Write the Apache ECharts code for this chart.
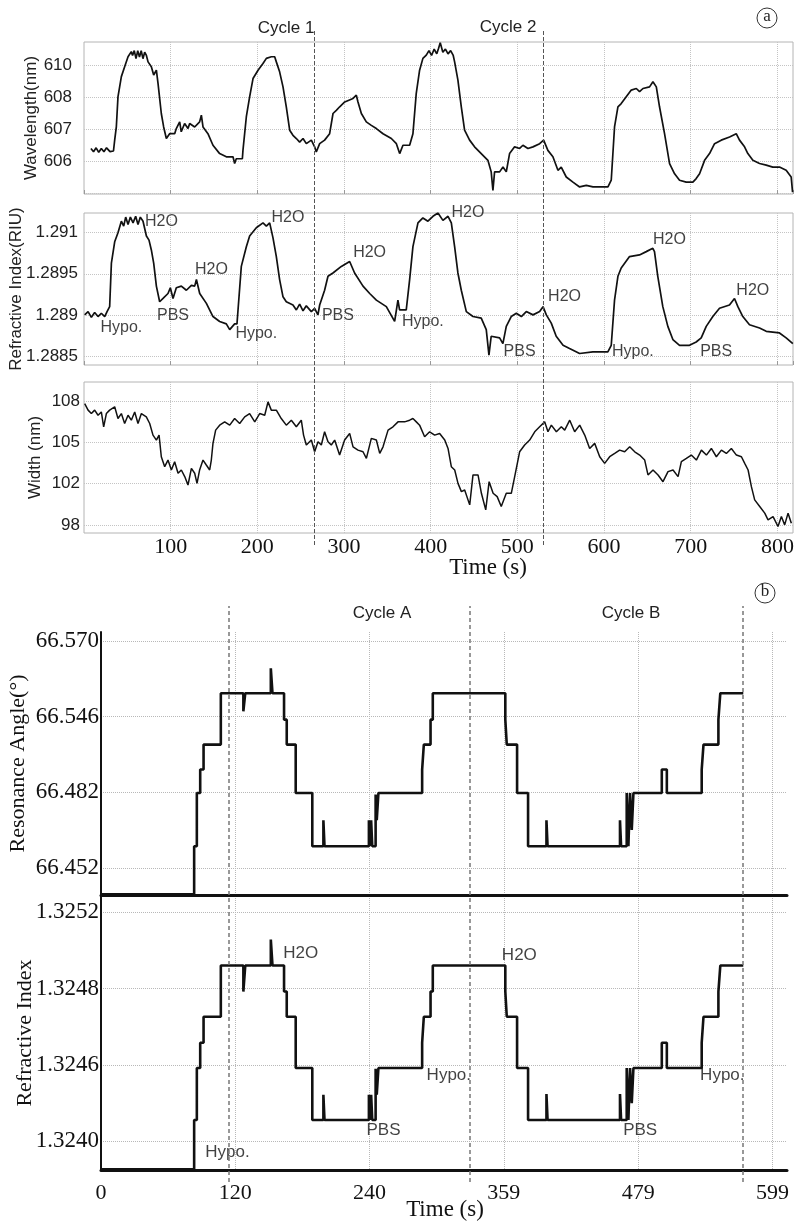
<!DOCTYPE html>
<html>
<head>
<meta charset="utf-8">
<title>Cycles</title>
<script src="https://cdn.jsdelivr.net/npm/echarts/dist/echarts.min.js"></script>
<style>
  html, body { margin: 0; padding: 0; background: #fff; }
  #main { width: 796px; height: 1222px; }
</style>
</head>
<body>
<div id="main"></div>
<script>
// ---- panel (a): time (s) vs value ----
const wavelengthPts = [[8,606.4],[11,606.3],[14,606.42],[17,606.28],[20,606.4],[23,606.3],[26,606.42],[30,606.3],[34,606.32],
  [35.4,606.66],[37.3,607.07],[39.2,608.01],[43.1,608.64],[46.9,608.95],[50.8,609.26],[54.6,609.42],
  [56,609.3],[58,609.45],[60,609.2],[62,609.45],[64,609.25],[66,609.45],[68,609.2],[70,609.4],[72,609.3],
  [73.9,609.1],[77.7,608.95],[80.4,608.69],[83.5,608.84],[85.4,608.43],[89.2,607.49],[91.9,607.07],[95,606.71],[98.8,606.86],
  [104.6,606.86],[106.5,607.02],[110.4,607.23],[112.2,606.92],[116.1,607.18],[120,607.02],[121.9,607.18],[127.7,607.07],
  [133.4,607.23],[135.4,607.44],[137.3,607.07],[143,606.86],[148.8,606.5],[156.5,606.24],[164.2,606.14],[171.9,606.14],
  [173.8,605.93],[175.7,606.08],[182.7,606.08],[183.4,606.34],[187.3,607.39],[191.1,608.01],[195,608.58],[200.8,608.84],
  [206.5,609.05],[210.4,609.21],[216.1,609.26],[220,609.26],[221.9,609.1],[225.7,608.79],[229.6,608.32],[233.4,607.7],
  [237.3,606.97],[241.1,606.81],[245,606.71],[248.8,606.6],[252.7,606.71],[256.5,606.55],[262.3,606.66],[266.1,606.45],
  [268,606.29],[271.9,606.55],[277.6,606.66],[283.4,606.86],[287.3,607.49],[291.1,607.59],[295,607.7],[300.8,607.85],
  [310.4,607.96],[314.2,608.06],[316.1,607.85],[320,607.49],[325.7,607.23],[331.5,607.12],[337.3,607.02],[345,606.86],
  [354.6,606.71],[360.4,606.55],[364.2,606.24],[368,606.5],[375.7,606.5],[379.5,606.86],[383.3,608.11],[387.2,608.84],
  [391,609.21],[394.9,609.31],[398,609.45],[401,609.3],[404,609.5],[407,609.35],[409,609.52],[411,609.7],[414,609.4],
  [417,609.5],[420,609.35],[423,609.45],[426,609.3],[427.6,609.1],[431.4,608.53],[435.3,607.7],[439.1,606.97],[444.9,606.66],
  [450.6,606.45],[458.3,606.24],[466,606.03],[469.8,605.67],[471.8,605.09],[473.7,605.67],[479.5,605.67],[483.4,605.82],
  [487.2,605.67],[491,606.24],[496.8,606.45],[502.6,606.4],[506.4,606.5],[512.2,606.4],[518,606.45],[525.7,606.55],
  [530.3,606.66],[535.2,606.34],[541,606.14],[546.8,605.72],[550.6,605.82],[556.4,605.51],[564.1,605.35],[571.8,605.2],
  [579.5,605.25],[587.2,605.2],[594.8,605.2],[604.5,605.2],[608.3,605.41],[612.1,607.07],[616,607.7],[619.8,607.8],
  [625.6,608.01],[631.4,608.22],[637.2,608.27],[641,608.17],[644.9,608.27],[652.5,608.32],[656.4,608.48],[660.3,608.32],
  [664,607.7],[669.8,606.86],[675.6,605.93],[681.4,605.61],[687.1,605.41],[694.8,605.35],[702.5,605.35],[706.3,605.46],
  [710.2,605.61],[716,606.03],[721.7,606.24],[727.5,606.55],[735.2,606.66],[744.8,606.76],[752.5,606.86],[756.3,606.66],
  [762.1,606.45],[765.9,606.24],[771.7,606.03],[779.4,605.93],[787.1,605.88],[794.7,605.82],[802.4,605.82],[810.1,605.72],
  [815.9,605.51],[817.5,605.04]];

const refIndexPtsA = [[0.8,1.289],[4.7,1.28904],[8.5,1.28897],[12.3,1.28903],[16.2,1.28898],[20,1.28902],[23.9,1.28898],
  [26.6,1.28904],[29.6,1.2891],[31.6,1.28963],[35.4,1.28989],[39.2,1.29],[43.1,1.29014],[45.8,1.29008],[48.1,1.29019],
  [50.8,1.2901],[53.5,1.29019],[56.6,1.29012],[59.6,1.2902],[62.3,1.2901],[65,1.29019],[68.1,1.29014],[72,1.28996],
  [75,1.28991],[77.7,1.28979],[80.4,1.28963],[83.5,1.28935],[87.3,1.28916],[91.2,1.2892],[96.9,1.28926],[99.6,1.28933],
  [102.7,1.2892],[106.5,1.28933],[112.3,1.28935],[118.1,1.2893],[123.9,1.28936],[127.7,1.28935],[129.7,1.28943],
  [133.5,1.28926],[141.2,1.28914],[148.8,1.28898],[156.5,1.28892],[164.2,1.28889],[168.1,1.28882],[173.8,1.28889],
  [176.5,1.28889],[177.7,1.28906],[181.5,1.28959],[187.3,1.28983],[191.1,1.28996],[198.8,1.29006],[206.5,1.29012],
  [210.4,1.29008],[214.2,1.29012],[218,1.28994],[221.9,1.28971],[225.7,1.28943],[229.6,1.28922],[233.4,1.28916],
  [241.1,1.28912],[245,1.28906],[248.8,1.28913],[252.7,1.28905],[256.5,1.28911],[262.3,1.28904],[266.1,1.28908],
  [269.9,1.289],[271.9,1.28912],[277.6,1.2893],[281.5,1.28947],[287.2,1.28951],[296.9,1.28959],[306.5,1.28965],
  [308.4,1.28967],[312.2,1.28951],[321.9,1.28935],[329.6,1.28926],[337.3,1.28918],[348.8,1.2891],[358.4,1.28892],
  [362.2,1.28918],[364.1,1.28906],[371.8,1.28906],[375.7,1.28943],[379.5,1.28983],[385.3,1.29012],[391,1.29018],
  [396.8,1.29014],[402.6,1.2902],[408.4,1.29024],[414.1,1.29015],[420,1.2902],[423.8,1.29012],[427.6,1.28983],
  [431.4,1.28951],[435.3,1.2893],[441.1,1.28904],[448.8,1.28898],[458.3,1.28896],[464.1,1.28882],[467.2,1.28851],
  [469.8,1.28874],[479.5,1.28872],[483.3,1.28865],[487.2,1.28886],[492.9,1.28898],[498.8,1.28902],[504.6,1.28898],
  [510.3,1.28904],[518,1.289],[525.7,1.28904],[529.6,1.2891],[533.4,1.289],[539.1,1.2889],[544.8,1.28874],[552.7,1.28863],
  [560.2,1.28859],[571.8,1.28853],[587.1,1.28855],[604.4,1.28855],[608.3,1.28863],[612.1,1.28918],[616,1.28947],
  [619.8,1.28957],[629.4,1.28971],[640.9,1.28973],[648.7,1.28977],[656.3,1.28981],[658.2,1.28977],[662,1.28947],
  [667.8,1.2891],[673.6,1.28886],[679.4,1.2887],[687.1,1.28863],[698.6,1.28863],[706.3,1.28867],[712.1,1.28872],
  [717.9,1.28886],[725.5,1.28898],[733.2,1.28908],[744.7,1.28912],[750.5,1.2892],[754.4,1.2891],[760.1,1.28898],
  [767.8,1.28888],[779.4,1.28884],[787.1,1.2888],[802.4,1.28878],[810.1,1.28872],[817.8,1.28865]];

const widthPts = [[0.8,107.8],[4.7,107.33],[8.5,107.08],[12.3,107.33],[16.2,106.96],[20,107.2],[22.7,106.12],[25.8,107.08],
  [29.6,107.33],[35.4,107.57],[39.2,106.72],[43.1,107.08],[46.9,106.36],[50.8,106.96],[54.6,106.6],[58.5,107.2],[62.3,106.36],
  [66.2,107.08],[71.9,106.84],[75.8,106.36],[79.6,105.52],[83.5,105.16],[86.6,105.52],[89.2,103.95],[93.1,103.23],
  [96.9,103.71],[100.8,102.99],[104.6,103.59],[108.5,102.75],[112.3,102.99],[116.2,102.51],[120,101.9],[123.9,103.11],
  [127.7,102.75],[130.4,102.02],[133.4,102.99],[137.3,103.71],[141.1,103.35],[145,102.99],[146.9,103.71],[148.8,104.92],
  [151.9,105.88],[156.5,106.24],[162.3,106.48],[168.1,106.24],[173.8,106.72],[179.6,106.36],[185.4,106.84],[191.1,107.08],
  [197,106.48],[202.7,107.08],[208.5,106.96],[212.3,107.93],[216.1,107.33],[221.9,107.33],[227.6,106.72],[233.4,106.24],
  [239.2,106.6],[245,106.12],[250.7,106.6],[253.3,105.52],[256.5,104.8],[262.3,105.16],[266.1,104.31],[270,105.04],
  [273.8,104.8],[277.6,105.76],[281.5,105.04],[285.3,104.8],[289.2,105.16],[294.9,104.07],[300.7,105.16],[306.5,105.64],
  [310.4,104.67],[316.1,104.43],[321.9,104.31],[325.8,103.83],[331.5,105.28],[337.3,105.16],[341.2,104.19],[345,104.67],
  [350.8,105.88],[356.5,106.12],[362.3,106.48],[369.9,106.48],[375.7,106.6],[379.5,106.72],[383.4,106.48],[387.2,106.24],
  [393,105.4],[398.8,105.76],[404.6,105.52],[410.3,105.64],[416.2,105.16],[420,104.55],[423.8,103.23],[427.7,102.99],
  [431.5,102.02],[435.4,101.42],[439.2,101.54],[445,100.46],[448.8,102.63],[454.6,102.63],[458.5,101.3],[463.5,100.1],
  [467.4,102.14],[472,101.3],[476.7,101.06],[481.4,100.34],[487.2,101.3],[493,101.3],[496.9,102.51],[502.6,104.31],
  [508.4,104.8],[514.2,105.16],[520,105.76],[525.7,106.12],[531.5,106.48],[535.3,105.76],[539.2,106.24],[545,105.76],
  [550.7,106.12],[554.6,105.88],[560.4,106.6],[566.1,105.76],[571.9,106.24],[577.7,105.52],[583.4,104.55],[589.2,104.92],
  [595,103.95],[600.7,103.47],[606.5,103.95],[612.3,104.19],[618,104.43],[623.8,104.31],[629.6,104.67],[635.4,104.31],
  [641.1,104.07],[646.9,103.71],[650.7,102.63],[656.5,102.99],[662.3,102.63],[668,102.14],[673.8,102.87],[679.6,102.99],
  [685.4,102.51],[689.2,103.59],[695,103.83],[700.7,104.07],[706.5,103.71],[712.3,104.43],[718.1,104.07],[723.8,104.55],
  [729.6,103.95],[735.4,104.43],[741.1,104.19],[746.9,104.55],[752.7,104.07],[758.5,103.95],[762.3,103.47],[766.2,102.99],
  [770,101.78],[773.8,100.82],[779.6,100.34],[785.4,99.86],[789.2,99.37],[795,99.61],[800.7,98.89],[804.6,99.61],
  [808.4,99.01],[812.3,99.86],[816.1,99.13]];

// annotations on the refractive index trace of (a): [time, RIU, text]
const notesA = [[89.3,1.29014,'H2O'],[43.1,1.28884,'Hypo.'],[102.7,1.28899,'PBS'],[147,1.28955,'H2O'],
  [198.8,1.28877,'Hypo.'],[235.3,1.29018,'H2O'],[293,1.28899,'PBS'],[329.5,1.28976,'H2O'],[391,1.28892,'Hypo.'],
  [443,1.29024,'H2O'],[502.5,1.28855,'PBS'],[554.4,1.28922,'H2O'],[633.2,1.28855,'Hypo.'],[675.5,1.28992,'H2O'],
  [729.4,1.28855,'PBS'],[771.6,1.2893,'H2O']];

const cycleLinesA = [266, 530];

// tick positions of (a) and the text printed at them
const wlTicks = [606, 607, 608, 609];
const wlTickLabels = ['606', '607', '608', '610'];
const riTicksA = [1.2885, 1.289, 1.2895, 1.29];
const riTickLabelsA = ['1.2885', '1.289', '1.2895', '1.291'];
const widthTicks = [99, 102, 105, 108];
const widthTickLabels = ['98', '102', '105', '108'];

// ---- panel (b): step traces, level = tick slot (0..3) on each axis ----
const bTimes = [0, 83.1, 85.5, 88.5, 91.5, 106.9, 127, 128.7, 151.5, 153, 163.3, 165.7, 173.7, 188.5, 198.4, 199.4,
  239, 240, 241, 242, 245, 246, 247.5, 286.5, 288, 294, 296, 360.7, 362, 371.2, 381, 397.4, 398.4, 463, 464, 469,
  470.5, 472, 473.5, 475, 500.3, 504.8, 535.9, 537.5, 550.8, 552.5, 573];
const angleLevels = [-0.35, 0.285, 0.99, 1.3, 1.63, 2.31, 2.07, 2.31, 2.64, 2.31, 1.96, 1.63, 0.99, 0.285, 0.63, 0.285,
  0.63, 0.285, 0.63, 0.285, 0.97, 0.63, 0.99, 1.3, 1.63, 1.96, 2.31, 1.96, 1.63, 0.99, 0.285, 0.63, 0.285, 0.63, 0.285,
  0.99, 0.285, 0.99, 0.5, 0.99, 1.3, 0.99, 1.3, 1.63, 1.96, 2.31, 2.31];
const riLevelsB = [-0.365, 0.28, 0.96, 1.29, 1.63, 2.3, 1.96, 2.3, 2.64, 2.3, 1.96, 1.63, 0.96, 0.28, 0.61, 0.28,
  0.61, 0.28, 0.61, 0.28, 0.95, 0.61, 0.96, 1.29, 1.63, 1.96, 2.3, 1.96, 1.63, 0.96, 0.28, 0.62, 0.28, 0.62, 0.28,
  0.96, 0.28, 0.96, 0.5, 0.96, 1.29, 0.96, 1.29, 1.63, 1.96, 2.3, 2.3];
const angleTickLabels = ['66.452', '66.482', '66.546', '66.570'];
const riTickLabelsB = ['1.3240', '1.3246', '1.3248', '1.3252'];
const notesB = [[178.1,2.46,'H2O'],[112.8,-0.15,'Hypo.'],[252,0.15,'PBS'],[310.3,0.87,'Hypo.'],
  [373.2,2.44,'H2O'],[481,0.15,'PBS'],[554.3,0.87,'Hypo.']];
const cycleLinesB = [114.3, 328.9, 572.1];
const bTickStep = 119.8;

const sans = "'Liberation Sans', Arial, sans-serif";
const serif = "'Liberation Serif', 'Times New Roman', serif";

function labelAt(ticks, labels) {
  return function (v) {
    for (let i = 0; i < ticks.length; i++) {
      if (Math.abs(v - ticks[i]) < 1e-7) return labels[i];
    }
    return '';
  };
}

var chart = echarts.init(document.getElementById('main'));

// (a) shared x axis
function xA(gi, withLabels) {
  return {
    type: 'value', gridIndex: gi, min: 0, max: 818, interval: 100,
    axisLine: { show: false },
    axisTick: { show: !withLabels, inside: true, length: 4, lineStyle: { color: '#999' } },
    splitLine: { show: true, showMinLine: false, showMaxLine: false, lineStyle: { type: 'dotted', color: '#c4c4c4' } },
    axisLabel: {
      show: withLabels, margin: 3, fontFamily: serif, fontSize: 22, color: '#111',
      formatter: function (v) { return (v > 0 && v <= 800 && v % 100 === 0) ? String(v) : ''; }
    }
  };
}
function yA(gi, min, max, split, ticks, labels, margin, name, gap) {
  return {
    type: 'value', gridIndex: gi, min: min, max: max, splitNumber: split,
    axisLine: { show: false }, axisTick: { show: false },
    splitLine: { show: true, showMinLine: false, showMaxLine: false, lineStyle: { type: 'dotted', color: '#c4c4c4' } },
    axisLabel: { formatter: labelAt(ticks, labels), fontFamily: sans, fontSize: 17, color: '#222', margin: margin },
    name: name, nameLocation: 'middle', nameGap: gap, nameMoveOverlap: false,
    nameTextStyle: { fontFamily: sans, fontSize: 17, color: '#222' }
  };
}
// (b) shared x axis
function xB(gi, withLabels) {
  return {
    type: 'value', gridIndex: gi, min: 0, max: 612, interval: bTickStep,
    axisLine: { show: true, onZero: false, lineStyle: { color: '#111', width: 3 } },
    axisTick: { show: false },
    splitLine: { show: true, showMinLine: false, showMaxLine: false, lineStyle: { type: 'dotted', color: '#b8b8b8' } },
    axisLabel: {
      show: withLabels, showMinLabel: true, margin: 12, fontFamily: serif, fontSize: 22, color: '#111',
      formatter: function (v) { return v > 605 ? '' : String(Math.round(v)); }
    }
  };
}
function yB(gi, min, max, labels, name, gap) {
  return {
    type: 'value', gridIndex: gi, min: min, max: max, splitNumber: 3,
    axisLine: { show: true, onZero: false, lineStyle: { color: '#111', width: 2 } },
    axisTick: { show: false },
    splitLine: { show: true, showMinLine: false, showMaxLine: false, lineStyle: { type: 'dotted', color: '#b8b8b8' } },
    axisLabel: { formatter: labelAt([0, 1, 2, 3], labels), fontFamily: serif, fontSize: 23, color: '#111', margin: 2 },
    name: name, nameLocation: 'middle', nameGap: gap, nameMoveOverlap: false,
    nameTextStyle: { fontFamily: serif, fontSize: 22, color: '#111' }
  };
}
function hidden(gi, max) {
  return [{ type: 'value', gridIndex: gi, min: 0, max: max, show: false },
          { type: 'value', gridIndex: gi, min: 0, max: 1, show: false }];
}
function grid(left, right, top, height, boxed) {
  var g = { left: left, right: right, top: top, height: height, containLabel: false, outerBoundsMode: 'none' };
  if (boxed) {
    g.show = true; g.borderColor = '#b4b4b4'; g.borderWidth = 1; g.backgroundColor = 'transparent';
  }
  return g;
}

var ovA = hidden(3, 818), ovB = hidden(6, 612);

var option = {
  animation: false,
  backgroundColor: '#fff',
  grid: [
    grid(84, 3, 42, 152, true),
    grid(84, 3, 213, 152, true),
    grid(84, 3, 382, 151, true),
    grid(84, 3, 30, 515, false),
    grid(101, 9, 632, 263, false),
    grid(101, 9, 896, 274, false),
    grid(101, 9, 606, 576, false)
  ],
  xAxis: [xA(0, false), xA(1, false), xA(2, true), ovA[0], xB(4, false), xB(5, true), ovB[0]],
  yAxis: [
    yA(0, 604.98, 609.72, 5, wlTicks, wlTickLabels, 12, 'Wavelength(nm)', 44),
    yA(1, 1.28839, 1.29024, 4, riTicksA, riTickLabelsA, 6, 'Refractive Index(RIU)', 59),
    yA(2, 98.42, 109.37, 4, widthTicks, widthTickLabels, 4, 'Width (nm)', 40),
    ovA[1],
    yB(4, -0.36, 3.12, angleTickLabels, 'Resonance Angle(°)', 72),
    yB(5, -0.375, 3.21, riTickLabelsB, 'Refractive Index', 65),
    ovB[1]
  ],
  series: [
    { type: 'line', xAxisIndex: 0, yAxisIndex: 0, data: wavelengthPts, symbol: 'none',
      lineStyle: { color: '#111', width: 1.7 } },
    { type: 'line', xAxisIndex: 1, yAxisIndex: 1, data: refIndexPtsA, symbol: 'none',
      lineStyle: { color: '#111', width: 1.7 } },
    { type: 'scatter', xAxisIndex: 1, yAxisIndex: 1, data: notesA, symbolSize: 0, silent: true,
      label: { show: true, position: 'inside', formatter: function (p) { return p.data[2]; },
               fontFamily: sans, fontSize: 16, color: '#111' } },
    { type: 'line', xAxisIndex: 2, yAxisIndex: 2, data: widthPts, symbol: 'none',
      lineStyle: { color: '#111', width: 1.5 } },
    { type: 'line', xAxisIndex: 3, yAxisIndex: 3, data: [], symbol: 'none',
      markLine: { symbol: ['none', 'none'], silent: true, label: { show: false },
        lineStyle: { type: [4, 2], color: '#555', width: 1 },
        data: cycleLinesA.map(function (x) { return { xAxis: x }; }) } },
    { type: 'line', step: 'end', xAxisIndex: 4, yAxisIndex: 4, symbol: 'none',
      data: bTimes.map(function (t, i) { return [t, angleLevels[i]]; }),
      lineStyle: { color: '#111', width: 2.6 } },
    { type: 'line', step: 'end', xAxisIndex: 5, yAxisIndex: 5, symbol: 'none',
      data: bTimes.map(function (t, i) { return [t, riLevelsB[i]]; }),
      lineStyle: { color: '#111', width: 2.6 } },
    { type: 'scatter', xAxisIndex: 5, yAxisIndex: 5, data: notesB, symbolSize: 0, silent: true,
      label: { show: true, position: 'inside', formatter: function (p) { return p.data[2]; },
               fontFamily: sans, fontSize: 17, color: '#111' } },
    { type: 'line', xAxisIndex: 6, yAxisIndex: 6, data: [], symbol: 'none',
      markLine: { symbol: ['none', 'none'], silent: true, label: { show: false },
        lineStyle: { type: [4, 3], color: '#777', width: 1.5 },
        data: cycleLinesB.map(function (x) { return { xAxis: x }; }) } }
  ],
  graphic: [
    { type: 'text', x: 286, y: 28, style: { text: 'Cycle 1', font: '17px ' + sans, fill: '#222', align: 'center', verticalAlign: 'middle' } },
    { type: 'text', x: 508, y: 27, style: { text: 'Cycle 2', font: '17px ' + sans, fill: '#222', align: 'center', verticalAlign: 'middle' } },
    { type: 'circle', shape: { cx: 767, cy: 18, r: 10 }, style: { fill: 'none', stroke: '#333', lineWidth: 1 } },
    { type: 'text', x: 767, y: 17, style: { text: 'a', font: '17px ' + serif, fill: '#222', align: 'center', verticalAlign: 'middle' } },
    { type: 'text', x: 488, y: 568, style: { text: 'Time (s)', font: '23px ' + serif, fill: '#111', align: 'center', verticalAlign: 'middle' } },
    { type: 'text', x: 382, y: 613, style: { text: 'Cycle A', font: '17px ' + sans, fill: '#222', align: 'center', verticalAlign: 'middle' } },
    { type: 'text', x: 631, y: 613, style: { text: 'Cycle B', font: '17px ' + sans, fill: '#222', align: 'center', verticalAlign: 'middle' } },
    { type: 'circle', shape: { cx: 765, cy: 593, r: 10 }, style: { fill: 'none', stroke: '#333', lineWidth: 1 } },
    { type: 'text', x: 765, y: 592, style: { text: 'b', font: '17px ' + serif, fill: '#222', align: 'center', verticalAlign: 'middle' } },
    { type: 'text', x: 445, y: 1210, style: { text: 'Time (s)', font: '23px ' + serif, fill: '#111', align: 'center', verticalAlign: 'middle' } }
  ]
};

option && chart.setOption(option);
</script>
</body>
</html>
